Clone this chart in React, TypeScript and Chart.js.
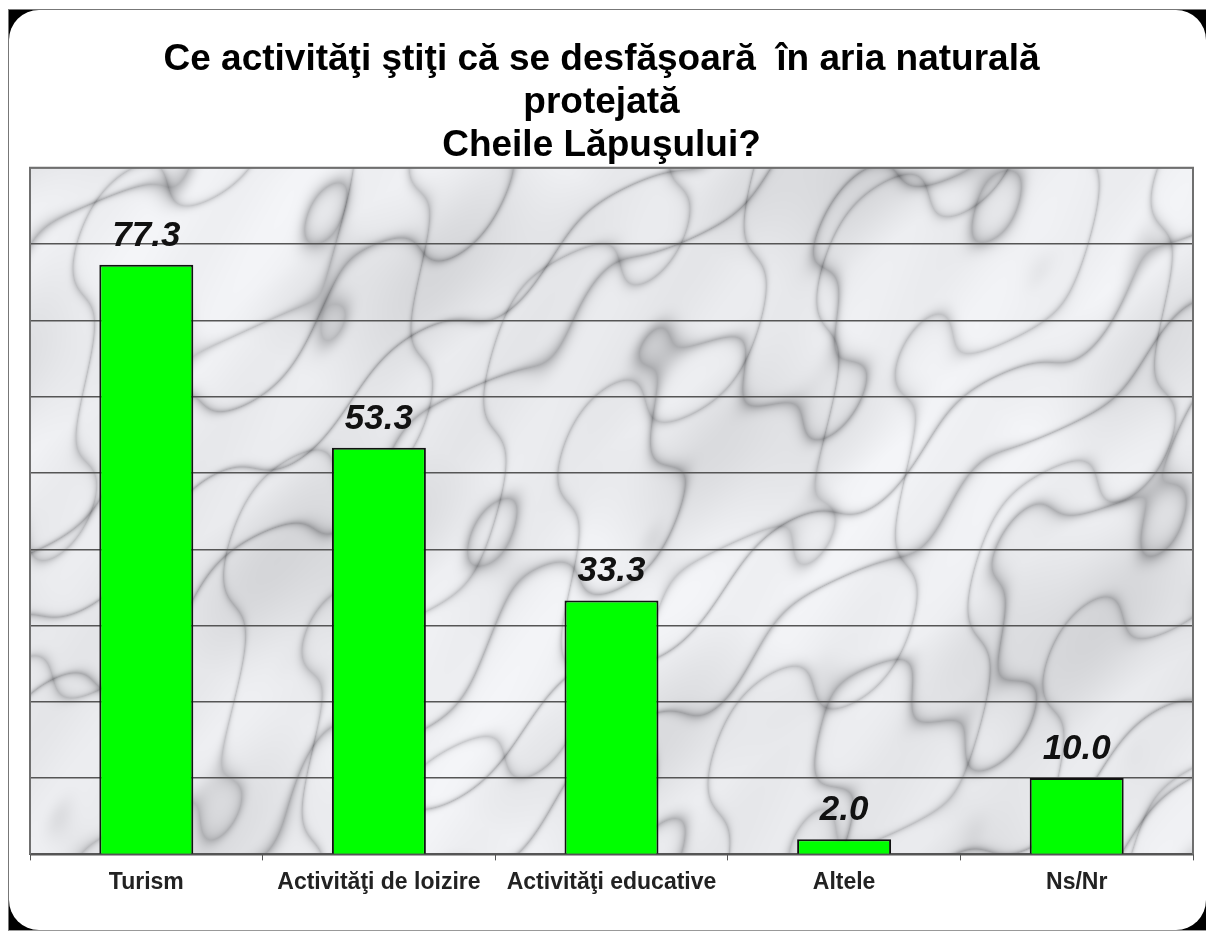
import React, { useEffect, useRef } from "react";
import { Chart, registerables } from "chart.js";

Chart.register(...registerables);

const titleLines = [
  "Ce activităţi ştiţi că se desfăşoară  în aria naturală",
  "protejată",
  "Cheile Lăpuşului?",
];
const categories = [
  "Turism",
  "Activităţi de loizire",
  "Activităţi educative",
  "Altele",
  "Ns/Nr",
];
const values = [77.3, 53.3, 33.3, 2.0, 10.0];
const yMin = 0;
const yMax = 90;
const yStep = 10;

let marbleCache: HTMLCanvasElement | null = null;
function makeMarble(w: number, h: number): HTMLCanvasElement {
  if (marbleCache && marbleCache.width === w && marbleCache.height === h) return marbleCache;
  const c = document.createElement("canvas");
  c.width = w;
  c.height = h;
  const ctx = c.getContext("2d")!;
  const img = ctx.createImageData(w, h);
  const d = img.data;
  for (let y = 0; y < h; y++) {
    for (let x = 0; x < w; x++) {
      const t = 0.016 * x + 0.02 * y;
      const turb =
        Math.sin(x * 0.009 + y * 0.014) * 0.9 +
        Math.sin(x * 0.023 - y * 0.012 + 1.7) * 0.5 +
        Math.sin(x * 0.061 + y * 0.047 + 0.4) * 0.18;
      const v = Math.abs(Math.sin(t + turb * 1.6));
      const vein = Math.pow(1 - v, 8);
      const t2 = 0.021 * x + 0.011 * y + 3;
      const turb2 =
        Math.sin(x * 0.017 - y * 0.009 + 0.8) * 0.8 +
        Math.sin(x * 0.049 + y * 0.037 + 2.1) * 0.25;
      const v2 = Math.abs(Math.sin(t2 + turb2 * 1.8));
      const vein2 = Math.pow(1 - v2, 10);
      const cloud = Math.max(0, Math.sin(x * 0.011 + y * 0.015 + 2) * Math.sin(x * 0.005 - y * 0.009 + 0.5));
      let base = 238 + 5 * Math.sin(x * 0.006 + y * 0.009) + 3 * Math.sin(x * 0.05 + y * 0.03);
      base -= cloud * 18;
      const cval = base - vein * 60 - vein2 * 45;
      const i = (y * w + x) * 4;
      d[i] = Math.max(0, Math.min(255, cval - 2));
      d[i + 1] = Math.max(0, Math.min(255, cval - 1));
      d[i + 2] = Math.max(0, Math.min(255, cval + 2));
      d[i + 3] = 255;
    }
  }
  ctx.putImageData(img, 0, 0);
  marbleCache = c;
  return c;
}

const marblePlugin = {
  id: "marble",
  beforeDraw(chart: any) {
    const { ctx, chartArea } = chart;
    const w = Math.round(chartArea.right - chartArea.left);
    const h = Math.round(chartArea.bottom - chartArea.top);
    const m = makeMarble(w, h);
    ctx.save();
    ctx.drawImage(m, chartArea.left, chartArea.top);
    ctx.restore();
  },
  afterDraw(chart: any) {
    const { ctx, chartArea } = chart;
    ctx.save();
    ctx.strokeStyle = "#6f6f6f";
    ctx.lineWidth = 2;
    ctx.beginPath();
    ctx.moveTo(chartArea.left, chartArea.bottom);
    ctx.lineTo(chartArea.left, chartArea.top);
    ctx.lineTo(chartArea.right, chartArea.top);
    ctx.lineTo(chartArea.right, chartArea.bottom);
    ctx.stroke();
    ctx.restore();
  },
};

const labelPlugin = {
  id: "valueLabels",
  afterDatasetsDraw(chart: any) {
    const { ctx } = chart;
    const meta = chart.getDatasetMeta(0);
    ctx.save();
    ctx.font = "italic bold 35px 'Liberation Sans', Arial, sans-serif";
    ctx.fillStyle = "#111";
    ctx.textAlign = "center";
    ctx.textBaseline = "alphabetic";
    meta.data.forEach((bar: any, i: number) => {
      ctx.fillText(values[i].toFixed(1), bar.x, bar.y - 19);
    });
    ctx.restore();
  },
};

function BarChart() {
  const ref = useRef<HTMLCanvasElement>(null);
  useEffect(() => {
    if (!ref.current) return;
    const chart = new Chart(ref.current, {
      type: "bar",
      data: {
        labels: categories,
        datasets: [
          {
            data: values,
            backgroundColor: "#00ff00",
            borderColor: "#111",
            borderWidth: 2,
            barPercentage: 0.404,
            categoryPercentage: 1,
          },
        ],
      },
      options: {
        animation: false,
        responsive: false,
        maintainAspectRatio: false,
        layout: { padding: { top: 38, left: 10, right: 13, bottom: 27 } },
        plugins: {
          legend: { display: false },
          tooltip: { enabled: false },
          title: {
            display: true,
            text: titleLines,
            color: "#000",
            font: { family: "'Liberation Sans', Arial, sans-serif", size: 37, weight: "bold", lineHeight: 1.17 },
            padding: { top: 0, bottom: 0 },
          },
        },
        scales: {
          x: {
            grid: {
              drawOnChartArea: false,
              drawTicks: true,
              tickLength: 6,
              color: "#555",
              offset: true,
            },
            border: { display: true, color: "#555", width: 2 },
            ticks: {
              color: "#222",
              padding: 8,
              font: { family: "'Liberation Sans', Arial, sans-serif", size: 23, weight: "bold" },
            },
          },
          y: {
            min: yMin,
            max: yMax,
            ticks: { display: false, stepSize: yStep },
            grid: { color: "#555", lineWidth: 1.5, drawTicks: false },
            border: { display: false },
            afterFit(scale: any) {
              scale.width = 20;
            },
          },
        },
      },
      plugins: [marblePlugin, labelPlugin],
    });
    return () => chart.destroy();
  }, []);
  return <canvas ref={ref} width={1206} height={931} style={{ position: "absolute", left: 0, top: 0 }} />;
}

export default function App() {
  return (
    <div style={{ position: "fixed", left: 0, top: 0, width: 1206, height: 931, background: "#fff", overflow: "hidden" }}>
      <div
        style={{
          position: "absolute",
          left: 8,
          top: 9,
          width: 1198,
          height: 922,
          boxSizing: "border-box",
          background: "#000",
          borderTop: "1px solid #777",
          borderLeft: "1px solid #777",
          borderBottom: "1px solid #999",
        }}
      >
        <div style={{ position: "absolute", inset: 0, background: "#fff", borderRadius: 30 }} />
      </div>
      <BarChart />
    </div>
  );
}
